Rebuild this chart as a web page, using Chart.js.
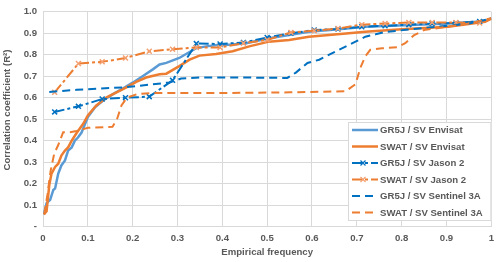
<!DOCTYPE html>
<html>
<head>
<meta charset="utf-8">
<script src="https://cdn.jsdelivr.net/npm/chart.js@4/dist/chart.umd.min.js"></script>
<style>
  html, body { margin: 0; padding: 0; background: #ffffff; }
  #wrap { width: 500px; height: 262px; }
</style>
</head>
<body>
<div id="wrap"><canvas id="c" width="500" height="262"></canvas></div>
<script>
// ---- Data ----
const seriesLabels = [
  'GR5J / SV Envisat',
  'SWAT / SV Envisat',
  'GR5J / SV Jason 2',
  'SWAT / SV Jason 2',
  'GR5J / SV Sentinel 3A',
  'SWAT / SV Sentinel 3A'
];
const xAxisTitle = 'Empirical frequency';
const yAxisTitle = 'Correlation coefficient (R²)';

const xTicks = [0, 0.1, 0.2, 0.3, 0.4, 0.5, 0.6, 0.7, 0.8, 0.9, 1];
const yTicks = [0, 0.1, 0.2, 0.3, 0.4, 0.5, 0.6, 0.7, 0.8, 0.9, 1.0];

const gr5jEnvisatFreq = [0.002, 0.008, 0.016, 0.023, 0.027, 0.034, 0.041, 0.049, 0.056, 0.064, 0.071, 0.078, 0.086, 0.1, 0.116, 0.134, 0.156, 0.178, 0.2, 0.223, 0.245, 0.26, 0.275, 0.304, 0.323, 0.342, 0.364, 0.393, 0.416, 0.453, 0.504, 0.549, 0.593, 0.66, 0.719, 0.808, 0.904, 0.986, 1.0];
const gr5jEnvisatR2   = [0.057, 0.11, 0.125, 0.171, 0.178, 0.247, 0.285, 0.308, 0.354, 0.369, 0.4, 0.415, 0.438, 0.51, 0.556, 0.587, 0.617, 0.643, 0.67, 0.701, 0.732, 0.755, 0.762, 0.785, 0.808, 0.831, 0.839, 0.846, 0.846, 0.854, 0.877, 0.892, 0.907, 0.919, 0.93, 0.937, 0.945, 0.956, 0.97];

const swatEnvisatFreq = [0.002, 0.008, 0.014, 0.019, 0.027, 0.034, 0.041, 0.049, 0.056, 0.064, 0.075, 0.09, 0.1, 0.119, 0.142, 0.164, 0.186, 0.208, 0.23, 0.26, 0.275, 0.304, 0.327, 0.349, 0.386, 0.423, 0.46, 0.504, 0.549, 0.593, 0.638, 0.682, 0.719, 0.8, 0.904, 0.986, 1.0];
const swatEnvisatR2   = [0.057, 0.072, 0.194, 0.247, 0.278, 0.293, 0.331, 0.354, 0.369, 0.4, 0.436, 0.48, 0.518, 0.564, 0.602, 0.625, 0.648, 0.674, 0.694, 0.709, 0.712, 0.747, 0.777, 0.796, 0.803, 0.816, 0.839, 0.861, 0.869, 0.884, 0.892, 0.9, 0.907, 0.919, 0.93, 0.953, 0.968];

const jasonFreq    = [0.026, 0.079, 0.132, 0.184, 0.237, 0.289, 0.342, 0.395, 0.447, 0.5, 0.553, 0.605, 0.658, 0.711, 0.763, 0.816, 0.868, 0.921, 0.974];
const gr5jJasonR2  = [0.534, 0.56, 0.594, 0.6, 0.605, 0.681, 0.852, 0.85, 0.857, 0.88, 0.9, 0.915, 0.92, 0.93, 0.935, 0.94, 0.945, 0.948, 0.955];
const swatJasonR2  = [0.625, 0.759, 0.767, 0.785, 0.816, 0.826, 0.834, 0.834, 0.854, 0.869, 0.904, 0.912, 0.922, 0.94, 0.945, 0.95, 0.95, 0.95, 0.948];

const gr5jSentinelFreq = [0.014, 0.075, 0.178, 0.23, 0.282, 0.308, 0.349, 0.45, 0.545, 0.564, 0.59, 0.616, 0.66, 0.697, 0.719, 0.742, 0.76, 0.85, 0.95, 1.0];
const gr5jSentinelR2   = [0.627, 0.637, 0.648, 0.659, 0.671, 0.689, 0.694, 0.694, 0.692, 0.717, 0.762, 0.777, 0.823, 0.861, 0.884, 0.895, 0.905, 0.925, 0.945, 0.968];

const swatSentinelFreq = [0.003, 0.01, 0.017, 0.025, 0.034, 0.045, 0.06, 0.075, 0.1, 0.155, 0.165, 0.175, 0.187, 0.21, 0.25, 0.4, 0.55, 0.675, 0.697, 0.708, 0.719, 0.73, 0.756, 0.79, 0.808, 0.827, 0.85, 0.9, 0.95, 1.0];
const swatSentinelR2   = [0.06, 0.15, 0.26, 0.34, 0.38, 0.44, 0.44, 0.445, 0.46, 0.465, 0.5, 0.564, 0.6, 0.617, 0.622, 0.622, 0.625, 0.63, 0.663, 0.74, 0.793, 0.823, 0.83, 0.835, 0.854, 0.89, 0.915, 0.93, 0.945, 0.97];

// ---- Build chart ----
function pts(xs, ys) { return xs.map((x, i) => ({ x: x, y: ys[i] })); }

const BLUE_LIGHT = '#5B9BD5';
const BLUE = '#0070C0';
const ORANGE = '#ED7D31';
const TXT = '#595959';
const GRID = '#D9D9D9';
const FONT_FAMILY = '"Liberation Sans", Arial, sans-serif';
const FS = 9.6;

const datasets = [
  { label: seriesLabels[0], data: pts(gr5jEnvisatFreq, gr5jEnvisatR2), borderColor: BLUE_LIGHT, borderWidth: 2.5, pointRadius: 0, order: 6 },
  { label: seriesLabels[1], data: pts(swatEnvisatFreq, swatEnvisatR2), borderColor: ORANGE, borderWidth: 2.5, pointRadius: 0, order: 5 },
  { label: seriesLabels[2], data: pts(jasonFreq, gr5jJasonR2), borderColor: BLUE, borderWidth: 2, borderDash: [10, 3, 3, 3],
    pointStyle: 'crossRot', pointRadius: 3.5, pointBorderColor: BLUE, pointBorderWidth: 1.5, order: 4 },
  { label: seriesLabels[3], data: pts(jasonFreq, swatJasonR2), borderColor: ORANGE, borderWidth: 2, borderDash: [10, 3, 3, 3],
    pointStyle: 'crossRot', pointRadius: 3.5, pointBorderColor: '#F4A070', pointBorderWidth: 1.5, order: 3 },
  { label: seriesLabels[4], data: pts(gr5jSentinelFreq, gr5jSentinelR2), borderColor: BLUE, borderWidth: 2, borderDash: [8, 5], pointRadius: 0, order: 2 },
  { label: seriesLabels[5], data: pts(swatSentinelFreq, swatSentinelR2), borderColor: ORANGE, borderWidth: 2, borderDash: [8, 5], pointRadius: 0, order: 1 }
];
datasets.forEach(d => { d.fill = false; d.tension = 0; d.backgroundColor = d.borderColor; });

const legendInside = {
  id: 'legendInside',
  afterDatasetsDraw(chart) {
    const ctx = chart.ctx;
    const area = chart.chartArea;
    const boxL = 348, boxT = 122, boxR = area.right, boxB = 221;
    ctx.save();
    ctx.fillStyle = '#ffffff';
    ctx.fillRect(boxL, boxT, boxR - boxL, boxB - boxT);
    ctx.strokeStyle = GRID;
    ctx.lineWidth = 1;
    ctx.strokeRect(boxL + 0.5, boxT + 0.5, boxR - boxL - 1, boxB - boxT - 1);
    ctx.font = 'bold ' + FS + 'px ' + FONT_FAMILY;
    ctx.textBaseline = 'middle';
    ctx.textAlign = 'left';
    chart.data.datasets.forEach((ds, i) => {
      const y = 130 + i * 16.5;
      ctx.strokeStyle = ds.borderColor;
      ctx.lineWidth = ds.borderWidth;
      ctx.setLineDash(ds.borderDash || []);
      ctx.beginPath();
      ctx.moveTo(352, y);
      ctx.lineTo(378, y);
      ctx.stroke();
      ctx.setLineDash([]);
      if (ds.pointStyle === 'crossRot') {
        ctx.strokeStyle = ds.pointBorderColor;
        ctx.lineWidth = 1.2;
        const cx = 363, r = 2.5;
        ctx.beginPath();
        ctx.moveTo(cx - r, y - r); ctx.lineTo(cx + r, y + r);
        ctx.moveTo(cx - r, y + r); ctx.lineTo(cx + r, y - r);
        ctx.stroke();
      }
      ctx.fillStyle = TXT;
      ctx.fillText(ds.label, 380, y + 0.5);
    });
    ctx.restore();
  }
};

const yTitlePlugin = {
  id: 'yTitle',
  afterDraw(chart) {
    const ctx = chart.ctx;
    ctx.save();
    ctx.translate(7.5, 110);
    ctx.rotate(-Math.PI / 2);
    ctx.font = 'bold ' + FS + 'px ' + FONT_FAMILY;
    ctx.fillStyle = TXT;
    ctx.textAlign = 'center';
    ctx.textBaseline = 'middle';
    ctx.fillText(yAxisTitle, 0, 0);
    ctx.restore();
  }
};

new Chart(document.getElementById('c'), {
  type: 'line',
  data: { datasets: datasets },
  plugins: [legendInside, yTitlePlugin],
  options: {
    responsive: false,
    animation: false,
    devicePixelRatio: 1,
    layout: { padding: { top: 7.5, right: 7, left: 0, bottom: 0 } },
    plugins: { legend: { display: false }, tooltip: { enabled: false } },
    scales: {
      x: {
        type: 'linear', min: 0, max: 1,
        afterBuildTicks(scale) { scale.ticks = xTicks.map(v => ({ value: v })); },
        afterFit(scale) { scale.height = 35.3; },
        ticks: {
          color: TXT, padding: 6, maxRotation: 0,
          font: { family: FONT_FAMILY, size: FS, weight: 'bold' },
          callback: v => (v === 0 ? '0' : v === 1 ? '1' : v.toFixed(1))
        },
        grid: { color: GRID, drawTicks: false, lineWidth: 1 },
        border: { color: GRID },
        title: {
          display: true, text: xAxisTitle, color: TXT,
          font: { family: FONT_FAMILY, size: FS, weight: 'bold' },
          padding: { top: 0, bottom: 4 }
        }
      },
      y: {
        type: 'linear', min: 0, max: 1,
        afterBuildTicks(scale) { scale.ticks = yTicks.map(v => ({ value: v })); },
        afterFit(scale) { scale.width = 43; },
        ticks: {
          color: TXT, padding: 6,
          font: { family: FONT_FAMILY, size: FS, weight: 'bold' },
          callback: v => (v === 0 ? '-' : v.toFixed(1))
        },
        grid: { color: GRID, drawTicks: false, lineWidth: 1 },
        border: { color: GRID },
        title: { display: false }
      }
    }
  }
});
</script>
</body>
</html>
